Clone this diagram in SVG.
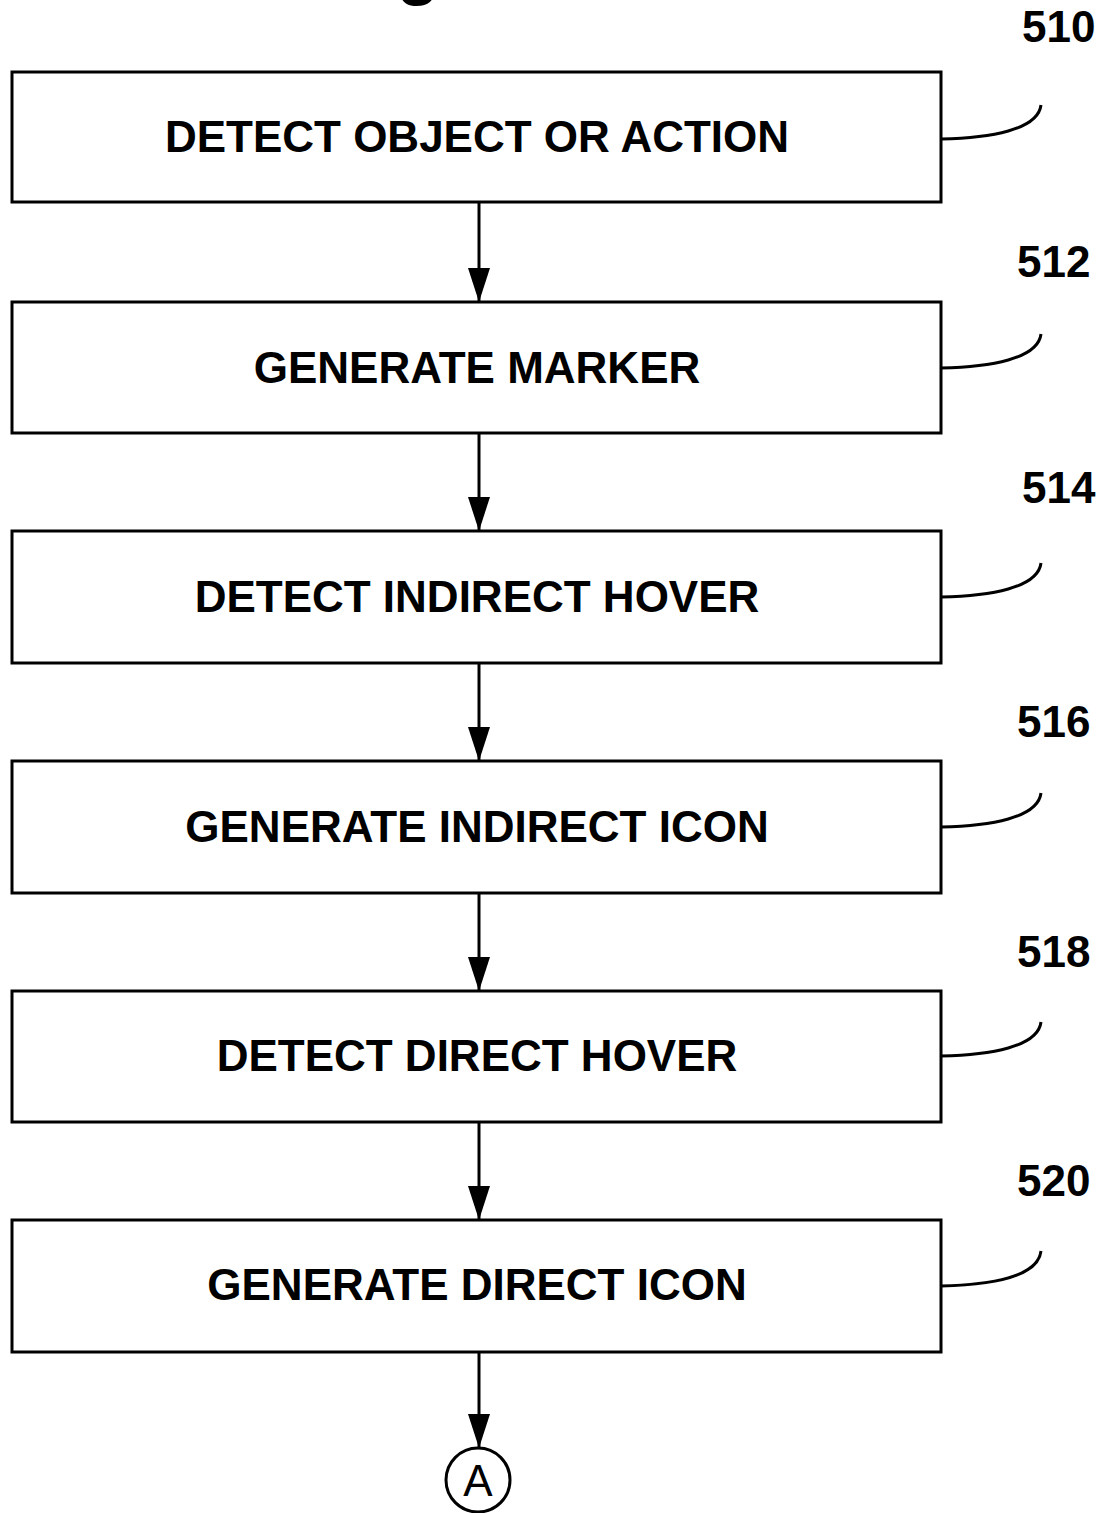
<svg xmlns="http://www.w3.org/2000/svg" width="1103" height="1513" viewBox="0 0 1103 1513">
<defs>
<style>
.box{fill:#fff;stroke:#000;stroke-width:3}
.lbl{font-family:"Liberation Sans",Arial,sans-serif;font-weight:bold;font-size:44px;text-anchor:middle;fill:#000}
.ref{font-family:"Liberation Sans",Arial,sans-serif;font-weight:bold;font-size:44px;text-anchor:start;fill:#000}
.lead{fill:none;stroke:#000;stroke-width:3}
.conn{stroke:#000;stroke-width:3;fill:none;marker-end:url(#ah)}
</style>
<marker id="ah" viewBox="0 0 34 22" refX="33" refY="11" markerWidth="34" markerHeight="22" markerUnits="userSpaceOnUse" orient="auto">
<path d="M0 0 L34 11 L0 22 Z" fill="#000"/>
</marker>
</defs>
<rect width="1103" height="1513" fill="#fff"/>
<text class="lbl" x="418" y="-9" style="font-size:70px">g</text>

<g id="connectors">
<line class="conn" x1="479" y1="203" x2="479" y2="301"/>
<line class="conn" x1="479" y1="433" x2="479" y2="530"/>
<line class="conn" x1="479" y1="663" x2="479" y2="760"/>
<line class="conn" x1="479" y1="893" x2="479" y2="990"/>
<line class="conn" x1="479" y1="1122" x2="479" y2="1219"/>
<line class="conn" x1="479" y1="1352" x2="479" y2="1447"/>
</g>

<g id="n510">
<rect class="box" x="12" y="72" width="929" height="130"/>
<text class="lbl" x="477" y="152">DETECT OBJECT OR ACTION</text>
<path class="lead" d="M941 139 C990 138 1038 130 1041 105"/>
<text class="ref" x="1022" y="42">510</text>
</g>
<g id="n512">
<rect class="box" x="12" y="302" width="929" height="131"/>
<text class="lbl" x="477" y="383">GENERATE MARKER</text>
<path class="lead" d="M941 368 C990 367 1038 359 1041 334"/>
<text class="ref" x="1017" y="277">512</text>
</g>
<g id="n514">
<rect class="box" x="12" y="531" width="929" height="132"/>
<text class="lbl" x="477" y="612">DETECT INDIRECT HOVER</text>
<path class="lead" d="M941 597 C990 596 1038 588 1041 563"/>
<text class="ref" x="1022" y="503">514</text>
</g>
<g id="n516">
<rect class="box" x="12" y="761" width="929" height="132"/>
<text class="lbl" x="477" y="842">GENERATE INDIRECT ICON</text>
<path class="lead" d="M941 827 C990 826 1038 818 1041 793"/>
<text class="ref" x="1017" y="737">516</text>
</g>
<g id="n518">
<rect class="box" x="12" y="991" width="929" height="131"/>
<text class="lbl" x="477" y="1071">DETECT DIRECT HOVER</text>
<path class="lead" d="M941 1056 C990 1055 1038 1047 1041 1022"/>
<text class="ref" x="1017" y="967">518</text>
</g>
<g id="n520">
<rect class="box" x="12" y="1220" width="929" height="132"/>
<text class="lbl" x="477" y="1300">GENERATE DIRECT ICON</text>
<path class="lead" d="M941 1286 C990 1285 1038 1277 1041 1251"/>
<text class="ref" x="1017" y="1196">520</text>
</g>
<g id="nA">
<circle cx="478" cy="1480" r="32" fill="#fff" stroke="#000" stroke-width="3"/>
<text x="478" y="1496" font-family="'Liberation Sans',Arial,sans-serif" font-size="44" text-anchor="middle">A</text>
</g>
</svg>
